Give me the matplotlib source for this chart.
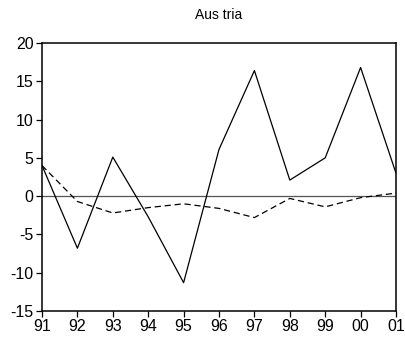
import numpy as np
import matplotlib
matplotlib.use("Agg")
from matplotlib import pyplot as plt

# Series data (annual, 1991-2001)
years = ["91", "92", "93", "94", "95", "96", "97", "98", "99", "00", "01"]
solid_values = [4.0, -6.8, 5.1, -2.7, -11.3, 6.1, 16.4, 2.1, 5.0, 16.8, 3.0]
dashed_values = [4.0, -0.7, -2.2, -1.5, -1.0, -1.6, -2.8, -0.3, -1.4, -0.2, 0.4]
y_ticks = [-15, -10, -5, 0, 5, 10, 15, 20]

plt.rcParams['font.family'] = ['Liberation Sans', 'DejaVu Sans']
plt.rcParams['axes.unicode_minus'] = False

fig = plt.figure(figsize=(4.06, 3.38), dpi=100)
ax = fig.add_axes([42 / 406, 1 - 311 / 338, 354 / 406, 268 / 338])

x = np.arange(len(years))
ax.axhline(0, color="#555555", linewidth=0.9, zorder=1)
ax.plot(x, solid_values, color="black", linewidth=0.9, zorder=3)
ax.plot(x, dashed_values, color="black", linewidth=0.9, linestyle=(0, (5, 3)), zorder=2)

ax.set_xlim(0, len(years) - 1)
ax.set_ylim(-15, 20)
ax.set_xticks(x)
ax.set_xticklabels(years)
ax.set_yticks(y_ticks)
ax.tick_params(direction="out", length=4, width=0.9, labelsize=11.5, pad=2)

for side in ax.spines.values():
    side.set_linewidth(1.1)

fig.text(219 / 406, 1 - 15 / 338, "Aus tria", ha="center", va="center", fontsize=10)

fig.savefig("out.png", dpi=100)
